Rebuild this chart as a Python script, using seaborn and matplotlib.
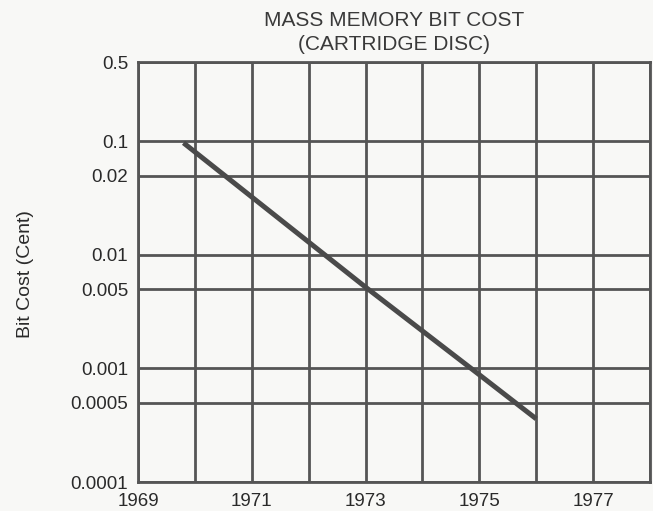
import matplotlib
matplotlib.use("Agg")
import matplotlib.pyplot as plt
import matplotlib.ticker as mticker
import seaborn as sns
import pandas as pd

# Data
years = [1969.8, 1973.0, 1975.0, 1976.0]
bit_cost = [0.097, 0.0052, 0.00088, 0.00036]

x_grid_years = [1969, 1970, 1971, 1972, 1973, 1974, 1975, 1976, 1977, 1978]
x_tick_labels = ["1969", "", "1971", "", "1973", "", "1975", "", "1977", ""]
y_ticks = [0.5, 0.1, 0.05, 0.01, 0.005, 0.001, 0.0005, 0.0001]
y_tick_labels = ["0.5", "0.1", "0.02", "0.01", "0.005", "0.001", "0.0005", "0.0001"]

title_text = "MASS MEMORY BIT COST\n(CARTRIDGE DISC)"
ylabel_text = "Bit Cost (Cent)"

sns.set_theme(style="white")
plt.rcParams["font.family"] = ["Liberation Sans", "DejaVu Sans"]

bg = "#f8f8f6"
grid_c = "#555555"
txt_c = "#2a2a2a"
fig = plt.figure(figsize=(6.53, 5.11), dpi=100, facecolor=bg)
L, R, T, B = 138, 650, 62, 482
ax = fig.add_axes([L / 653, 1 - B / 511, (R - L) / 653, (B - T) / 511])
ax.set_facecolor(bg)

df = pd.DataFrame({"year": years, "cost": bit_cost})
sns.lineplot(data=df, x="year", y="cost", ax=ax, color="#4a4a4a", linewidth=3.6,
             solid_capstyle="butt")

ax.set_yscale("log")
ax.set_xlim(1969, 1978)
ax.set_ylim(0.0001, 0.5)
ax.set_xticks(x_grid_years)
ax.set_xticklabels(x_tick_labels)
ax.set_yticks(y_ticks)
ax.set_yticklabels(y_tick_labels)
ax.yaxis.set_minor_locator(mticker.NullLocator())
ax.xaxis.set_minor_locator(mticker.NullLocator())

ax.grid(True, color=grid_c, linewidth=2.0)
ax.set_axisbelow(True)
for s in ax.spines.values():
    s.set_visible(True)
    s.set_color(grid_c)
    s.set_linewidth(2.0)

ax.tick_params(axis="both", length=0, labelsize=13.5, colors=txt_c)
ax.tick_params(axis="x", pad=8)
ax.tick_params(axis="y", pad=7)

ax.set_xlabel("")
ax.set_ylabel(ylabel_text, fontsize=14, color=txt_c)
ax.yaxis.set_label_coords(-0.203, 0.494)

ax.set_title(title_text, fontsize=15, color="#3a3a3a", linespacing=1.3, pad=9)

fig.savefig("out.png", dpi=100, facecolor=bg)
